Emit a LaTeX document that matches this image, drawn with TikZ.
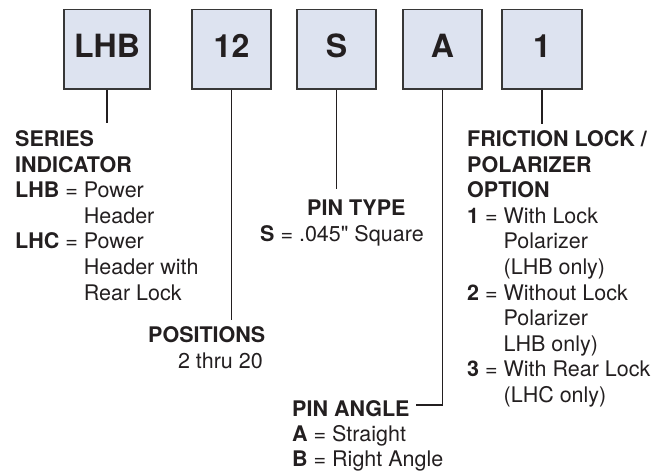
\documentclass[tikz,border=0pt]{standalone}
\usepackage{fontspec}
\setmainfont{TeX Gyre Heros}
\newfontfamily\plainfont{TeX Gyre Heros}
\definecolor{ink}{RGB}{35,31,32}
\definecolor{boxfill}{RGB}{221,227,240}
\definecolor{boxline}{RGB}{55,55,55}
\begin{document}
\begin{tikzpicture}[x=1pt,y=-1pt,
  box/.style={draw=boxline, fill=boxfill, line width=1.2pt, minimum width=79pt, minimum height=79.5pt, inner sep=0pt},
  boxlbl/.style={font=\fontsize{32}{32}\selectfont\bfseries, text=ink, inner sep=0pt},
  txt/.style={anchor=base west, inner sep=0pt, font=\fontsize{21.5}{25}\selectfont, text=ink},
  txtr/.style={txt, anchor=base east},
  lead/.style={draw=ink, line width=1.6pt}]
\useasboundingbox (0,0) rectangle (665,472);
% boxes
\node[box, minimum width=86pt] (bLHB) at (107,49.25) {};
\node[box] (b12) at (231.5,49.25) {};
\node[box] (bS) at (336.5,49.25) {};
\node[box] (bA) at (442.5,49.25) {};
\node[box, minimum width=80pt] (b1) at (542,49.25) {};
\node[boxlbl] (lLHB) at (107,46) {LHB};
\node[boxlbl] (l12) at (231.5,46) {12};
\node[boxlbl] (lS) at (336.5,46) {S};
\node[boxlbl] (lA) at (442.5,46) {A};
\node[boxlbl] (l1) at (542,46) {1};
% leader ends
\coordinate (eLHB) at (107,123);
\coordinate (e12) at (231.5,320);
\coordinate (eS) at (336.5,189);
\coordinate (eA) at (416,405);
\coordinate (e1) at (542,124);
\draw[lead] (bLHB.south) -- (eLHB);
\draw[lead] (b12.south) -- (e12);
\draw[lead] (bS.south) -- (eS);
\draw[lead] (bA.south) |- (eA);
\draw[lead] (b1.south) -- (e1);
% series indicator
\node[txt] (ser1) at (15,146.5) {\bfseries SERIES};
\node[txt] (ser2) at (15,172.1) {\bfseries INDICATOR};
\node[txt] (ser3) at (15,197.7) {\textbf{LHB} = Power};
\node[txt] (ser4) at (15,223.3) {\phantom{\textbf{LHB} = }Header};
\node[txt] (ser5) at (15,248.9) {\textbf{LHC} = Power};
\node[txt] (ser6) at (15,274.5) {\phantom{\textbf{LHB} = }Header with};
\node[txt] (ser7) at (15,300.1) {\phantom{\textbf{LHB} = }Rear Lock};
% positions
\node[txt] (po1) at (148,342.5) {\bfseries POSITIONS};
\node[txtr] (po2) at (263,368.5) {2 thru 20};
% pin type
\node[txt] (pt1) at (307,215.5) {\bfseries PIN TYPE};
\node[txt] (pt2) at (260,241.5) {\textbf{S} = .045{\plainfont"} Square};
% pin angle
\node[txt] (pa1) at (292,416) {\bfseries PIN ANGLE};
\node[txt] (pa2) at (292,441.5) {\textbf{A} = Straight};
\node[txt] (pa3) at (292,466.5) {\textbf{B} = Right Angle};
% friction lock
\node[txt] (fr1) at (467,146.5) {\bfseries FRICTION LOCK /};
\node[txt] (fr2) at (467,172.1) {\bfseries POLARIZER};
\node[txt] (fr3) at (467,197.7) {\bfseries OPTION};
\node[txt] (fr4) at (467,223.3) {\textbf{1} = With Lock};
\node[txt] (fr5) at (467,248.9) {\phantom{\textbf{1} = }Polarizer};
\node[txt] (fr6) at (467,274.5) {\phantom{\textbf{1} = }(LHB only)};
\node[txt] (fr7) at (467,300.1) {\textbf{2} = Without Lock};
\node[txt] (fr8) at (467,325.7) {\phantom{\textbf{1} = }Polarizer};
\node[txt] (fr9) at (467,351.3) {\phantom{\textbf{1} = }LHB only)};
\node[txt] (fr10) at (467,376.9) {\textbf{3} = With Rear Lock};
\node[txt] (fr11) at (467,402.5) {\phantom{\textbf{1} = }(LHC only)};
\end{tikzpicture}
\end{document}
